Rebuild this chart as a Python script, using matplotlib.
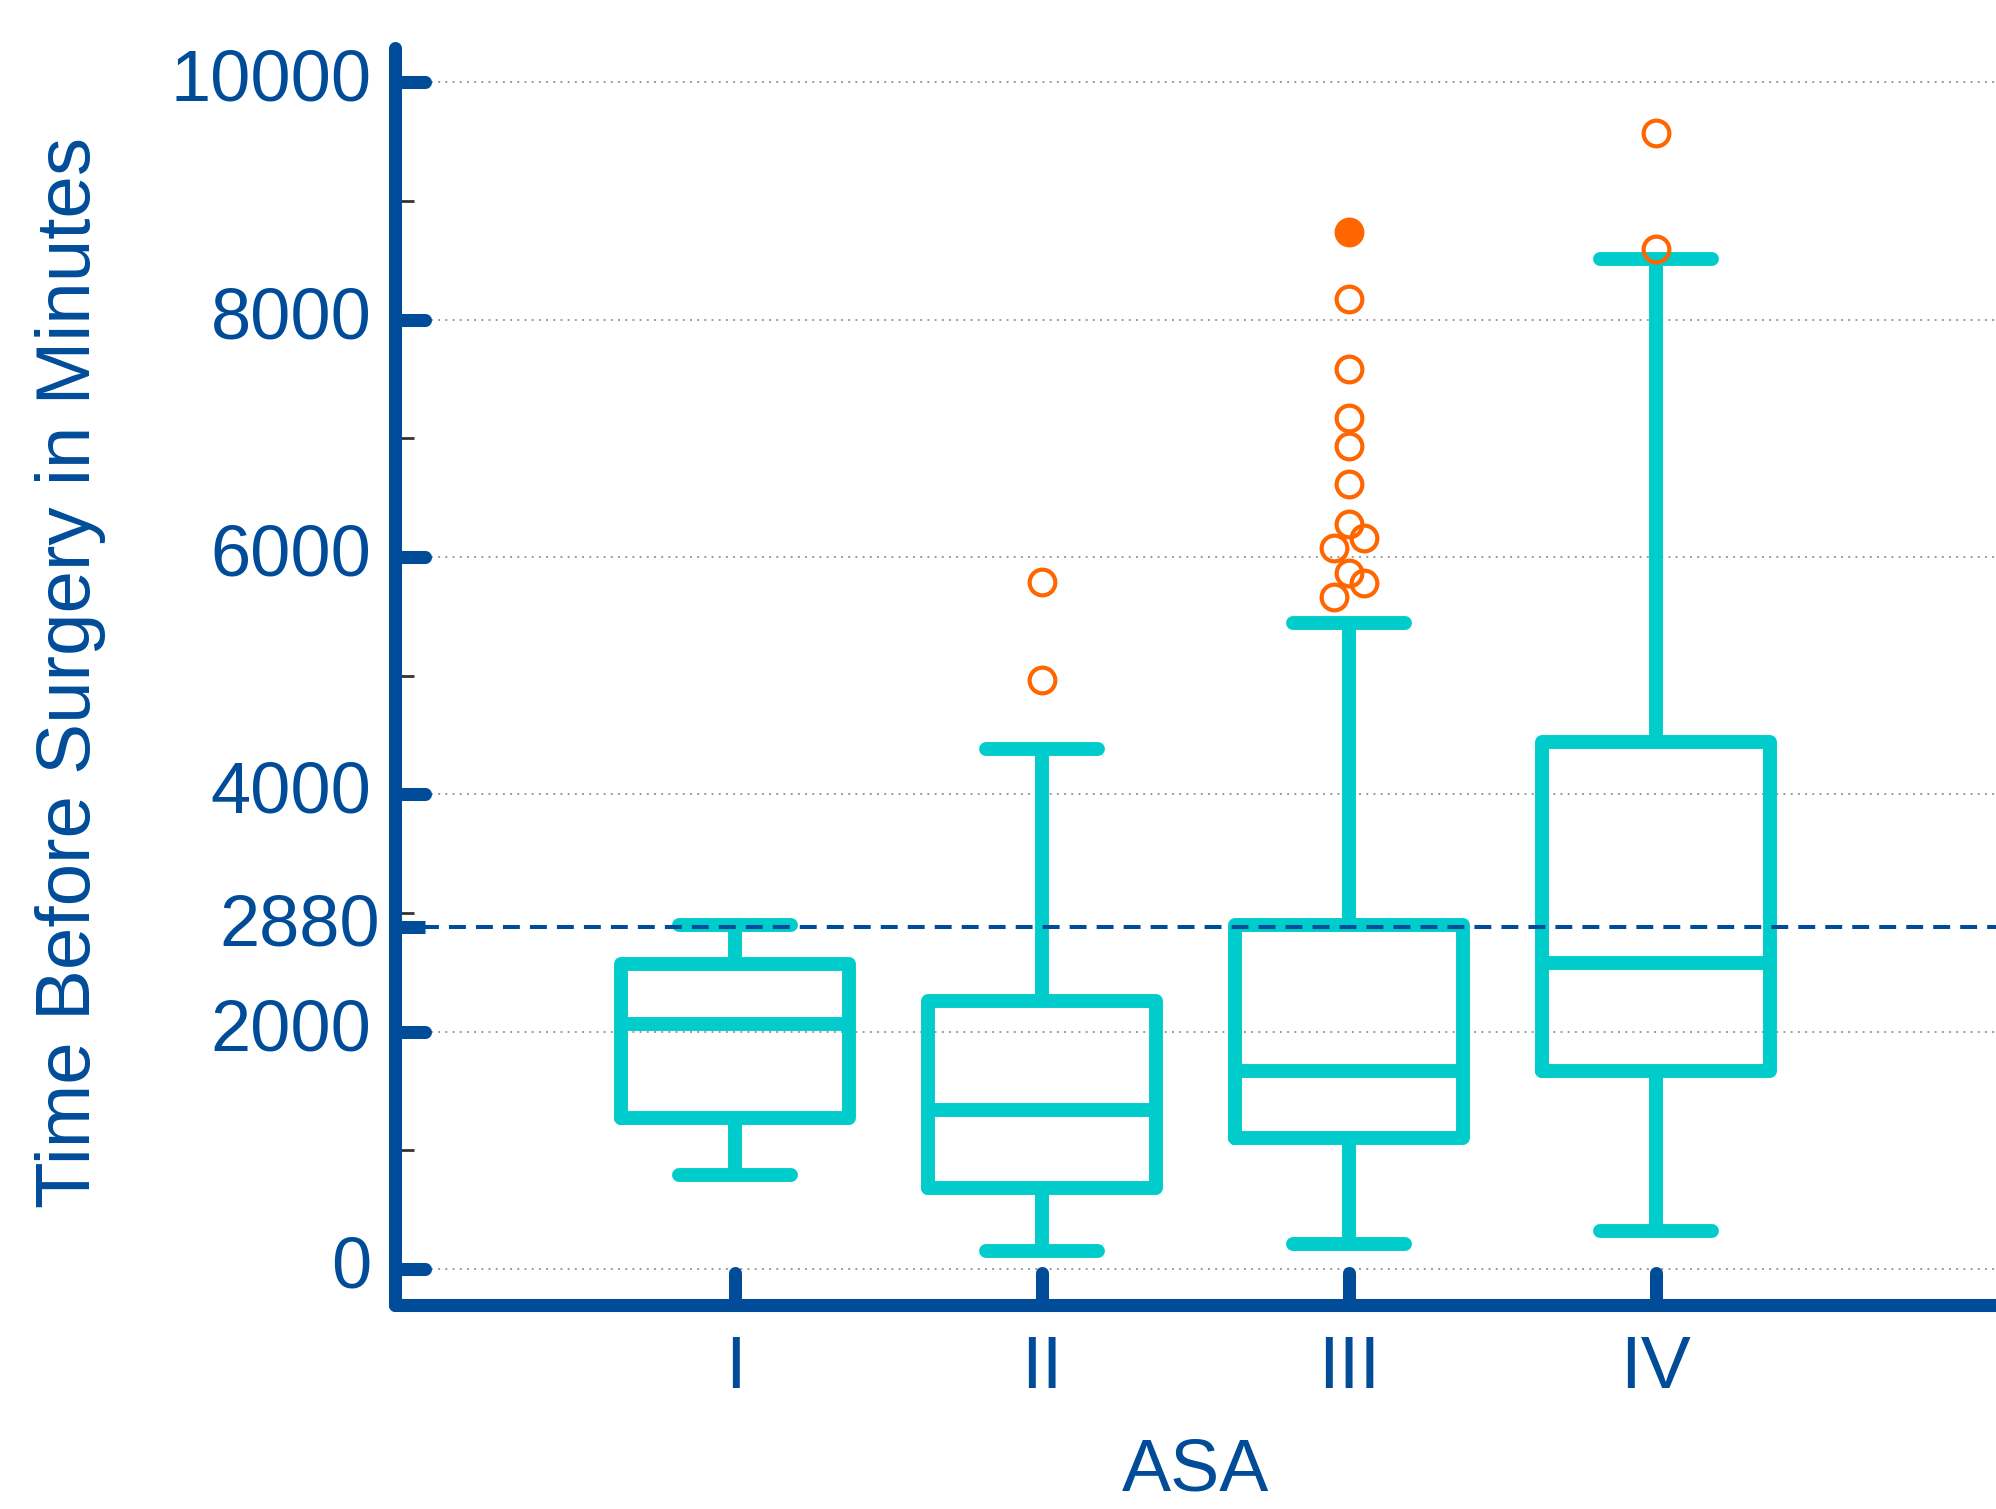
import matplotlib
matplotlib.use("Agg")
import matplotlib.pyplot as plt
from matplotlib.markers import MarkerStyle, TICKRIGHT, TICKUP

# ---------------- data ----------------
categories = ["I", "II", "III", "IV"]
whisker_low = [792, 150, 214, 321]
q1 = [1270, 685, 1103, 1670]
median = [2064, 1338, 1670, 2580]
q3 = [2570, 2259, 2901, 4443]
whisker_high = [2896, 4379, 5441, 8512]

outliers_I = []
outliers_II = [5788, 4962]
outliers_III = [8178, 7588, 7174, 6938, 6613, 6282, 6164, 6076, 5869, 5780, 5662]
outliers_IV = [9571, 8597]
# dodge column for each open outlier (0 centre, +1 right, -1 left)
dodge_I = []
dodge_II = [0, 0]
dodge_III = [0, 0, 0, 0, 0, 0, 1, -1, 0, 1, -1]
dodge_IV = [0, 0]
extreme_III = [8742]  # filled marker

y_major = [0, 2000, 2880, 4000, 6000, 8000, 10000]
y_major_labels = ["0", "2000", "2880", "4000", "6000", "8000", "10000"]
y_minor = [1000, 3000, 5000, 7000, 9000]
grid_values = [0, 2000, 4000, 6000, 8000, 10000]
threshold = 2880

# ---------------- style ----------------
BLUE = "#004C99"
CYAN = "#00CCCC"
ORANGE = "#FF6600"
plt.rcParams["font.family"] = ["Liberation Sans", "DejaVu Sans"]
plt.rcParams["ytick.alignment"] = "center"

fig = plt.figure(figsize=(19.96, 15.09), dpi=100)
ax = fig.add_axes([395 / 1996, 1 - 1305.3 / 1509, 1 - 395 / 1996, (1305.3 - 48) / 1509])

positions = list(range(1, len(categories) + 1))
stats = []
for i in range(len(categories)):
    stats.append(dict(med=median[i], q1=q1[i], q3=q3[i],
                      whislo=whisker_low[i], whishi=whisker_high[i], fliers=[]))

lw = 10
ax.bxp(stats, positions=positions, widths=0.743, capwidths=0.365, showfliers=False,
       boxprops=dict(color=CYAN, linewidth=lw, solid_joinstyle="round", solid_capstyle="round"),
       whiskerprops=dict(color=CYAN, linewidth=lw, solid_capstyle="butt"),
       capprops=dict(color=CYAN, linewidth=lw, solid_capstyle="round"),
       medianprops=dict(color=CYAN, linewidth=lw, solid_capstyle="butt"),
       manage_ticks=False, zorder=3)

dodge_step = 0.048
all_out = [outliers_I, outliers_II, outliers_III, outliers_IV]
all_dodge = [dodge_I, dodge_II, dodge_III, dodge_IV]
for pos, vals, dg in zip(positions, all_out, all_dodge):
    if vals:
        xs = [pos + d * dodge_step for d in dg]
        ax.plot(xs, vals, linestyle="none", marker="o", markersize=18.5,
                markerfacecolor="none", markeredgecolor=ORANGE, markeredgewidth=3.0, zorder=4)
ax.plot([positions[2]] * len(extreme_III), extreme_III, linestyle="none", marker="o",
        markersize=18.5, markerfacecolor=ORANGE, markeredgecolor=ORANGE, markeredgewidth=3.0, zorder=4)

# grid and threshold
ax.hlines(grid_values, 0, 1, transform=ax.get_yaxis_transform(), colors="#9a9a9a",
          linewidth=1.4, linestyles=[(0, (1.0, 2.7))], zorder=0.5)
ax.axhline(threshold, color=BLUE, linewidth=2.9, linestyle=(0, (4.2, 2.5)), zorder=5)

ax.set_xlim(-0.1075, 5.1075)
ax.set_ylim(-306, 10290)

ax.set_xticks(positions)
ax.set_xticklabels(categories)
ax.set_yticks(y_major)
ax.set_yticklabels(y_major_labels)
ax.set_yticks(y_minor, minor=True)

ax.tick_params(axis="y", which="major", direction="in", length=21.6, width=9.4, color=BLUE,
               labelsize=52, labelcolor=BLUE, pad=17, right=False)
ax.tick_params(axis="y", which="minor", direction="in", length=13.7, width=2, color="#333333", right=False)
ax.tick_params(axis="x", which="major", direction="in", length=23, width=9.4, color=BLUE,
               labelsize=54, labelcolor=BLUE, pad=21, top=False)
ax.tick_params(axis="x", which="minor", bottom=False, top=False)

for t in ax.yaxis.get_major_ticks():
    t.tick1line.set_marker(MarkerStyle(TICKRIGHT, capstyle="round"))
for t in ax.xaxis.get_major_ticks():
    t.tick1line.set_marker(MarkerStyle(TICKUP, capstyle="round"))
ax.yaxis.get_major_ticks()[y_major.index(threshold)].set_pad(11)
for lbl in ax.get_yticklabels():
    lbl.set_verticalalignment("center")

for s in ["top", "right"]:
    ax.spines[s].set_visible(False)
for s in ["left", "bottom"]:
    ax.spines[s].set_linewidth(9.4)
    ax.spines[s].set_color(BLUE)
    ax.spines[s].set_capstyle("round")

fig.text(1195.5 / 1996, 0.002, "ASA", ha="center", va="bottom", fontsize=53, color=BLUE)
fig.text(35 / 1996, 1 - 673 / 1509, "Time Before Surgery in Minutes", rotation=90,
         ha="left", va="center", fontsize=55, color=BLUE)

fig.savefig("out.png", dpi=100)
